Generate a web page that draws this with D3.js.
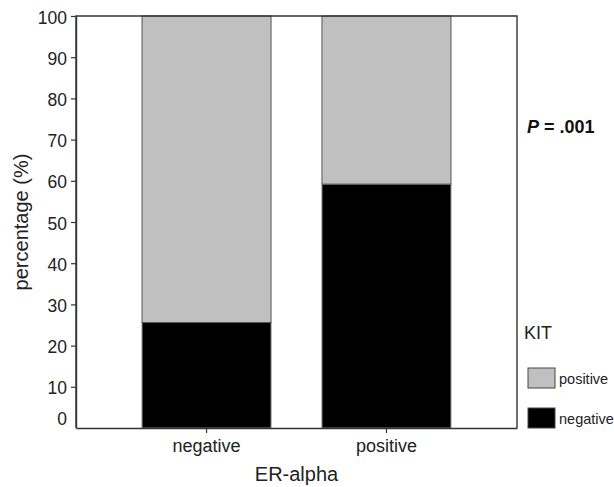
<!DOCTYPE html>
<html>
<head>
<meta charset="utf-8">
<script src="https://cdn.jsdelivr.net/npm/d3@7"></script>
<style>
  html, body { margin: 0; padding: 0; background: #fff; }
  svg { display: block; font-family: "Liberation Sans", Arial, Helvetica, sans-serif; }
</style>
</head>
<body>
<div id="chart"></div>
<script>
// ER-alpha groups, KIT status stacked to 100 %
const categories = ['negative', 'positive'];
const kitNegative = [25.6, 59.2];
const kitPositive = [74.4, 40.8];
const yTicks = [0, 10, 20, 30, 40, 50, 60, 70, 80, 90, 100];
const legendLabels = ['positive', 'negative'];

const width = 614;
const height = 487;
const margin = { top: 16, right: 97, bottom: 59, left: 76 };

const svg = d3.select('#chart')
  .append('svg')
  .attr('width', width)
  .attr('height', height);

const x = d3.scaleBand()
  .domain(categories)
  .range([margin.left, width - margin.right])
  .paddingInner(0.283)
  .paddingOuter(0.367);

const y = d3.scaleLinear()
  .domain([0, 100])
  .range([height - margin.bottom, margin.top]);

const colors = { negative: '#000000', positive: '#c0c0c0' };

// gestapelte Balken
const rows = categories.map((c, i) => ({ cat: c, negative: kitNegative[i], positive: kitPositive[i] }));
const stack = d3.stack().keys(['negative', 'positive'])(rows);

svg.append('g')
  .selectAll('g')
  .data(stack)
  .join('g')
  .attr('fill', d => colors[d.key])
  .attr('stroke', d => d.key === 'positive' ? '#555' : '#888')
  .attr('stroke-width', 1)
  .selectAll('rect')
  .data(d => d)
  .join('rect')
  .attr('x', d => x(d.data.cat))
  .attr('y', d => y(d[1]))
  .attr('width', x.bandwidth())
  .attr('height', d => y(d[0]) - y(d[1]));

// Rahmen
const frameColor = '#333';
svg.append('path')
  .attr('d', `M${margin.left},${y(0)}V${y(100)}H${width - margin.right}V${y(0)}`)
  .attr('fill', 'none')
  .attr('stroke', frameColor)
  .attr('stroke-width', 1.4);

// y-Achse
const yAxis = svg.append('g')
  .attr('transform', `translate(${margin.left},0)`)
  .call(d3.axisLeft(y).tickValues(yTicks).tickSize(5).tickSizeOuter(0).tickPadding(4));
yAxis.select('.domain').attr('stroke', frameColor).attr('stroke-width', 1.4);
yAxis.selectAll('line').attr('stroke', frameColor).attr('stroke-width', 1.2);
yAxis.selectAll('text')
  .attr('font-size', '17.5px')
  .attr('fill', '#222')
  .attr('font-family', '"Liberation Sans", Arial, sans-serif')
  .attr('dy', d => d === 0 ? '-0.2em' : '0.4em');
yAxis.selectAll('.tick').filter(d => d === 0).select('line').remove();

// x-Achse
const xAxis = svg.append('g')
  .attr('transform', `translate(0,${y(0)})`)
  .call(d3.axisBottom(x).tickSize(5).tickSizeOuter(0).tickPadding(6));
xAxis.select('.domain').attr('stroke', frameColor).attr('stroke-width', 1.4);
xAxis.selectAll('line').attr('stroke', frameColor).attr('stroke-width', 1.2);
xAxis.selectAll('text')
  .attr('font-size', '18px')
  .attr('fill', '#222')
  .attr('font-family', '"Liberation Sans", Arial, sans-serif');

// Achsentitel
svg.append('text')
  .attr('x', (x('negative') + x('positive') + x.bandwidth()) / 2)
  .attr('y', 481)
  .attr('text-anchor', 'middle')
  .attr('font-size', '20px')
  .attr('fill', '#222')
  .text('ER-alpha');

svg.append('text')
  .attr('transform', `translate(28,${(y(0) + y(100)) / 2}) rotate(-90)`)
  .attr('text-anchor', 'middle')
  .attr('font-size', '20px')
  .attr('fill', '#222')
  .text('percentage (%)');

// P-Wert
const pText = svg.append('text')
  .attr('x', 527)
  .attr('y', 133)
  .attr('font-size', '18px')
  .attr('font-weight', 'bold')
  .attr('fill', '#111');
pText.append('tspan').attr('font-style', 'italic').text('P');
pText.append('tspan').text(' = .001');

// Legende
svg.append('text')
  .attr('x', 524)
  .attr('y', 339)
  .attr('font-size', '18px')
  .attr('fill', '#222')
  .text('KIT');

const legend = svg.append('g')
  .selectAll('g')
  .data(legendLabels)
  .join('g')
  .attr('transform', (d, i) => `translate(528,${368 + i * 40})`);

legend.append('rect')
  .attr('width', 27)
  .attr('height', 20)
  .attr('fill', d => colors[d])
  .attr('stroke', '#444')
  .attr('stroke-width', 1);

legend.append('text')
  .attr('x', 31)
  .attr('y', 16)
  .attr('font-size', '14.5px')
  .attr('fill', '#222')
  .text(d => d);
</script>
</body>
</html>
